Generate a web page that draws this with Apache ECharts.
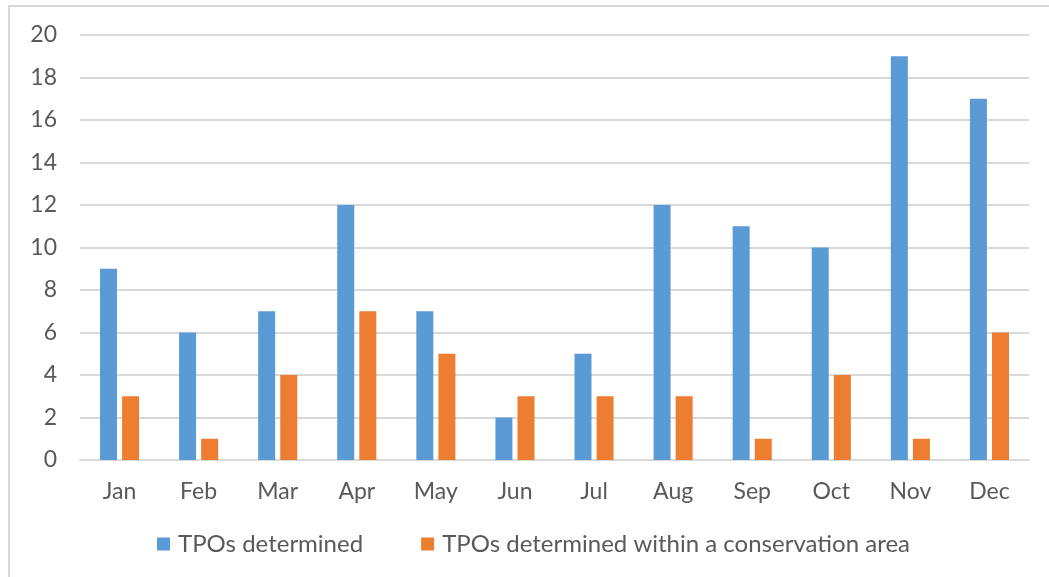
<!DOCTYPE html>
<html>
<head>
<meta charset="utf-8">
<script src="https://cdn.jsdelivr.net/npm/echarts@6/dist/echarts.min.js"></script>
<style>
  html, body { margin: 0; padding: 0; background: #fff; }
  #chart { width: 1049px; height: 577px; }
</style>
</head>
<body>
<div id="chart"></div>
<script>
const months = ['Jan', 'Feb', 'Mar', 'Apr', 'May', 'Jun', 'Jul', 'Aug', 'Sep', 'Oct', 'Nov', 'Dec'];
const tpoDetermined = [9, 6, 7, 12, 7, 2, 5, 12, 11, 10, 19, 17];
const tpoConservation = [3, 1, 4, 7, 5, 3, 3, 3, 1, 4, 1, 6];
const seriesNames = ['TPOs determined', 'TPOs determined within a conservation area'];

const font = 'Lato, "Open Sans", sans-serif';
const chart = echarts.init(document.getElementById('chart'));
chart.setOption({
  animation: false,
  textStyle: { fontFamily: font },
  graphic: [
    {
      type: 'rect',
      shape: { x: 9, y: 6, width: 1100, height: 650 },
      style: { fill: 'none', stroke: '#d9d9d9', lineWidth: 2 },
      silent: true
    }
  ],
  grid: { left: 80, right: 20, top: 35, bottom: 117 },
  legend: {
    top: 527,
    left: 152,
    itemGap: 58,
    itemWidth: 13,
    itemHeight: 13,
    icon: 'rect',
    textStyle: { fontSize: 24, color: '#595959', fontFamily: font, padding: [0, 0, 0, 3] },
    data: seriesNames
  },
  xAxis: {
    type: 'category',
    data: months,
    axisLine: { lineStyle: { color: '#d9d9d9', width: 2 } },
    axisTick: { show: false },
    axisLabel: { fontSize: 23, color: '#595959', margin: 20, fontFamily: font }
  },
  yAxis: {
    type: 'value',
    min: 0,
    max: 20,
    interval: 2,
    axisLine: { show: false },
    axisTick: { show: false },
    splitLine: { lineStyle: { color: '#d9d9d9', width: 2 } },
    axisLabel: { fontSize: 23, color: '#595959', margin: 23, fontFamily: font }
  },
  series: [
    {
      name: seriesNames[0],
      type: 'bar',
      data: tpoDetermined,
      barWidth: 17,
      barGap: '30%',
      itemStyle: { color: '#5b9bd5' }
    },
    {
      name: seriesNames[1],
      type: 'bar',
      data: tpoConservation,
      barWidth: 17,
      itemStyle: { color: '#ed7d31' }
    }
  ]
});
</script>
</body>
</html>
